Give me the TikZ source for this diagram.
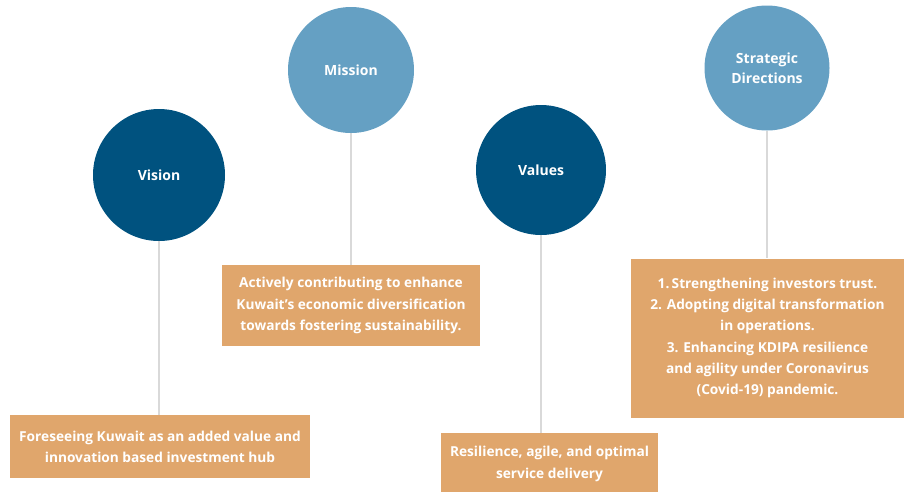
\documentclass[tikz,border=0pt]{standalone}
\usepackage{fontspec}
\setmainfont{Open Sans}
\definecolor{darkblue}{RGB}{0,82,127}
\definecolor{lightblue}{RGB}{101,160,195}
\definecolor{boxorange}{RGB}{224,166,108}
\definecolor{linegray}{RGB}{217,217,217}
\begin{document}
\begin{tikzpicture}[x=1pt,y=-1pt,
  circ/.style={circle,inner sep=0pt,text=white,font=\bfseries\fontsize{14}{20}\selectfont,align=center},
  dark/.style={circ,fill=darkblue},
  light/.style={circ,fill=lightblue},
  infobox/.style={fill=boxorange,text=white,inner sep=0pt,align=center,font=\bfseries\fontsize{13.7}{21.2}\selectfont},
  conn/.style={draw=linegray,line width=1.5pt}]
\useasboundingbox (0,0) rectangle (911,491);
\node[dark,minimum size=132pt] (vision) at (159,175) {Vision};
\node[light,minimum size=126pt] (mission) at (351,70) {Mission};
\node[dark,minimum size=130pt] (values) at (541,170) {Values};
\node[light,minimum size=125pt] (strat) at (767,68) {Strategic\\Directions};
\node[infobox,minimum width=300pt,minimum height=63pt] (bvision) at (160,446.5)
  {Foreseeing Kuwait as an added value and\\innovation based investment hub};
\node[infobox,minimum width=258pt,minimum height=81pt] (bmission) at (351,305.5)
  {Actively contributing to enhance\\Kuwait’s economic diversification\\towards fostering sustainability.};
\node[infobox,minimum width=217pt,minimum height=62pt] (bvalues) at (549.5,464)
  {Resilience, agile, and optimal\\service delivery};
\node[infobox,minimum width=273pt,minimum height=159pt] (bstrat) at (767.5,338)
  {1.\,Strengthening investors trust.\\2. Adopting digital transformation\\in operations.\\3. Enhancing KDIPA resilience\\and agility under Coronavirus\\(Covid-19) pandemic.};
\draw[conn] (vision.south) -- (vision.south |- bvision.north);
\draw[conn] (mission.south) -- (mission.south |- bmission.north);
\draw[conn] (values.south) -- (values.south |- bvalues.north);
\draw[conn] (strat.south) -- (strat.south |- bstrat.north);
\end{tikzpicture}
\end{document}
